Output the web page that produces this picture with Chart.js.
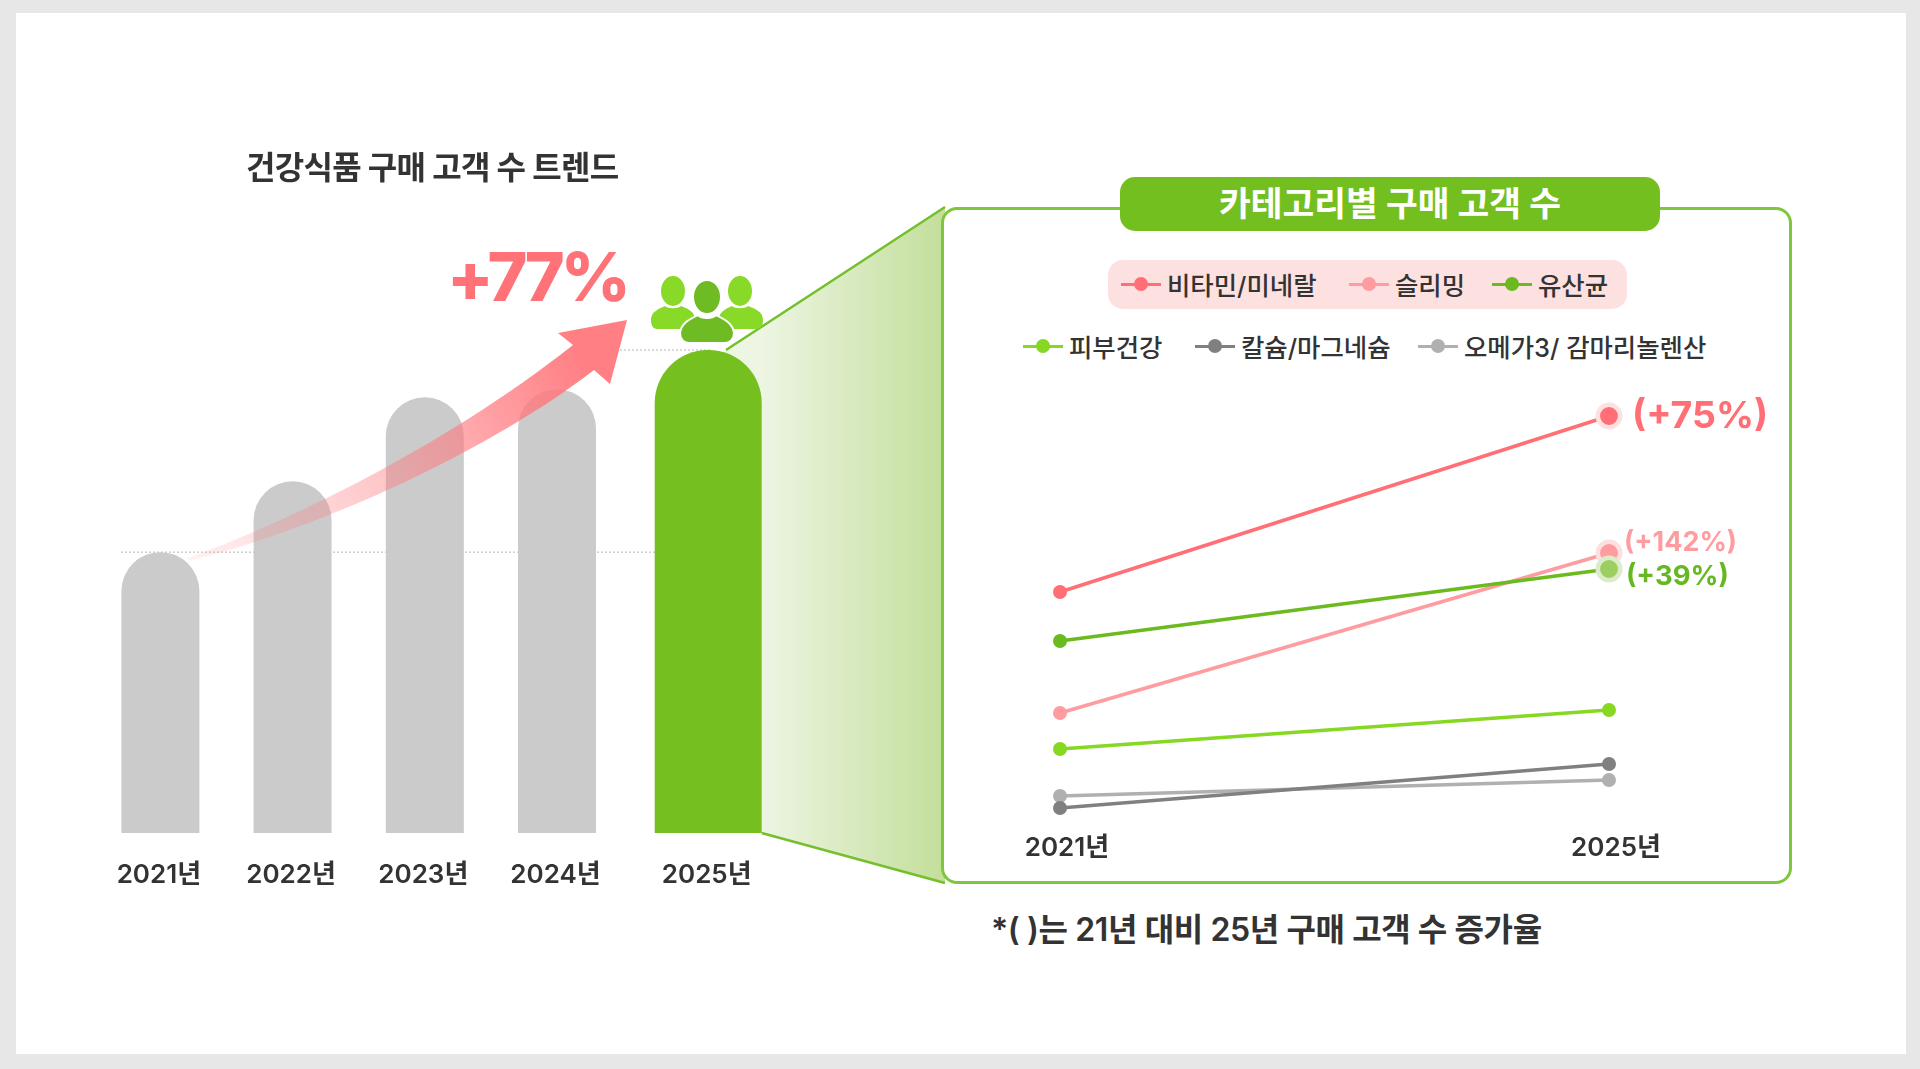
<!DOCTYPE html>
<html lang="ko">
<head>
<meta charset="utf-8">
<title>건강식품 구매 고객 수 트렌드</title>
<script src="https://cdn.jsdelivr.net/npm/chart.js@4"></script>
<style>
    html, body { margin: 0; padding: 0; }
    body { width: 1920px; height: 1069px; background: #e7e7e7; position: relative; overflow: hidden;
        font-family: Inter, "Noto Sans CJK KR", sans-serif; color: #333; }
    #sheet { position: absolute; left: 16px; top: 13px; width: 1890px; height: 1041px; background: #fff; }
    canvas { position: absolute; }
    .txt { position: absolute; white-space: nowrap; transform: translateY(-50%); line-height: 1; }
    #panel { position: absolute; box-sizing: border-box; left: 941px; top: 207px; width: 851px; height: 677px; background: #fff;
        border: 3px solid #7ec63c; border-radius: 16px; }
    #pill { position: absolute; left: 1120px; top: 177px; width: 540px; height: 54px; background: #74bf20; border-radius: 15px;
        color: #fff; font-size: 34.5px; font-weight: 700; line-height: 53px; text-align: center; }
    #legendBack { position: absolute; left: 1108px; top: 260px; width: 519px; height: 49px; background: #fde0e0; border-radius: 15px; }
    .legendItem { position: absolute; display: flex; align-items: center; height: 30px; transform: translateY(-50%);
        font-size: 25.4px; font-weight: 500; white-space: nowrap; }
    .legendMark { position: relative; width: 40px; height: 3px; margin-right: 6px; }
    .legendMark i { position: absolute; left: 13px; top: -5.5px; width: 14px; height: 14px; border-radius: 50%; background: inherit; }
    #people { position: absolute; left: 640px; top: 270px; }
</style>
</head>
<body>
<div id="sheet"></div>
<canvas id="trendChart" width="960" height="1069" style="left:0;top:0"></canvas>
<svg id="people" width="135" height="80" viewBox="640 270 135 80">
    <g fill="#88d928">
        <ellipse cx="673" cy="291" rx="12" ry="15"/>
        <ellipse cx="740" cy="291" rx="12" ry="15"/>
        <path d="M651 320C651 312 658 309 665 306C668 309 678 309 681 306C689 309 695 312 695 320C695 327 692 329 688 329L658 329C654 329 651 327 651 320Z"/>
        <path d="M719 320C719 312 725 309 732 306C735 309 745 309 748 306C756 309 763 312 763 320C763 327 760 329 756 329L726 329C722 329 719 327 719 320Z"/>
    </g>
    <g fill="#6fbb24" stroke="#fff" stroke-width="2">
        <ellipse cx="707" cy="297" rx="14" ry="17"/>
        <path d="M680 333C681 323 690 319 698 315C702 319 712 319 716 315C724 319 733 323 734 333C734 340 729 343 725 343L689 343C685 343 680 340 680 333Z"/>
    </g>
</svg>
<div class="txt" style="left:447px;top:276px;font-size:68px;font-weight:800;letter-spacing:-4px;color:#ff7278">+77%</div>
<div class="txt" style="left:246px;top:168px;font-size:32px;font-weight:700;letter-spacing:-0.7px">건강식품 구매 고객 수 트렌드</div>
<div id="panel"></div>
<div id="pill">카테고리별 구매 고객 수</div>
<div id="legendBack"></div>
<div id="legend"></div>
<canvas id="categoryChart" width="830" height="500" style="left:960px;top:380px"></canvas>
<div class="txt" style="left:991px;top:930px;font-size:32px;font-weight:600;letter-spacing:-0.4px">*( )는 21년 대비 25년 구매 고객 수 증가율</div>

<script>
const trendYears = ['2021년', '2022년', '2023년', '2024년', '2025년'];
const trendValues = [100, 127, 159, 162, 177];

const categoryYears = ['2021년', '2025년'];
const categoryNames = ['비타민/미네랄', '슬리밍', '유산균', '피부건강', '칼슘/마그네슘', '오메가3/ 감마리놀렌산'];
const vitaminValues = [234, 410];
const slimmingValues = [113, 273];
const probioticValues = [185, 257];
const skinValues = [77, 116];
const calciumValues = [18, 62];
const omegaValues = [30, 46];
const growthLabels = ['(+75%)', '(+142%)', '(+39%)'];

const categoryColors = ['#ff6f75', '#ff9ca0', '#6bba1f', '#86d822', '#808080', '#b0b0b0'];
const fontFamily = 'Inter, "Noto Sans CJK KR", sans-serif';

// category scale whose last slot sits a little further right
class GappedCategoryScale extends Chart.CategoryScale {
    static id = 'gappedCategory';
    getPixelForValue(value) {
        const pixel = super.getPixelForValue(value);
        const index = typeof value === 'number' ? value : this.parse(value);
        return index === this.max ? pixel + this.options.lastGap : pixel;
    }
}
Chart.register(GappedCategoryScale);

const trendDecor = {
    id: 'trendDecor',
    beforeDatasetsDraw(chart) {
        const ctx = chart.ctx;
        const y = chart.scales.y;
        const green = chart.getDatasetMeta(1).data[4];

        // funnel from the green bar into the category panel
        const fill = ctx.createLinearGradient(green.x + green.width / 2, 0, 941, 0);
        fill.addColorStop(0, '#edf5e3');
        fill.addColorStop(1, '#c4df9c');
        ctx.save();
        ctx.fillStyle = fill;
        ctx.beginPath();
        ctx.moveTo(726, y.getPixelForValue(177));
        ctx.lineTo(945, 207);
        ctx.lineTo(945, 883);
        ctx.lineTo(green.x + green.width / 2, chart.chartArea.bottom);
        ctx.closePath();
        ctx.fill();
        ctx.strokeStyle = '#74bf2c';
        ctx.lineWidth = 2.5;
        ctx.beginPath();
        ctx.moveTo(726, y.getPixelForValue(177));
        ctx.lineTo(945, 207);
        ctx.moveTo(green.x + green.width / 2, chart.chartArea.bottom);
        ctx.lineTo(945, 883);
        ctx.stroke();

        // dotted guides at the first and last year's level
        ctx.strokeStyle = '#b5b5b5';
        ctx.lineWidth = 1;
        ctx.setLineDash([2, 2]);
        ctx.beginPath();
        ctx.moveTo(121, y.getPixelForValue(trendValues[0]));
        ctx.lineTo(760, y.getPixelForValue(trendValues[0]));
        ctx.moveTo(620, y.getPixelForValue(trendValues[4]));
        ctx.lineTo(710, y.getPixelForValue(trendValues[4]));
        ctx.stroke();
        ctx.restore();
    },
    afterDatasetsDraw(chart) {
        const ctx = chart.ctx;
        const fill = ctx.createLinearGradient(190, 560, 600, 340);
        fill.addColorStop(0, 'rgba(255,120,125,0.1)');
        fill.addColorStop(0.45, 'rgba(255,120,125,0.42)');
        fill.addColorStop(0.95, 'rgba(255,120,125,0.95)');
        ctx.save();
        ctx.fillStyle = fill;
        ctx.beginPath();
        ctx.moveTo(188, 558);
        ctx.bezierCurveTo(280, 525, 440, 450, 573, 345);
        ctx.lineTo(558, 333);
        ctx.lineTo(627, 320);
        ctx.lineTo(610, 384);
        ctx.lineTo(594, 370);
        ctx.bezierCurveTo(480, 458, 300, 535, 188, 561);
        ctx.closePath();
        ctx.fill();
        ctx.restore();
    }
};

new Chart(document.getElementById('trendChart'), {
    type: 'bar',
    data: {
        labels: trendYears,
        datasets: [{
            data: trendValues.map((v, i) => (i < 4 ? v : null)),
            backgroundColor: '#cbcbcb',
            barThickness: 78,
            borderRadius: {topLeft: 39, topRight: 39, bottomLeft: 0, bottomRight: 0},
            base: -7,
            grouped: false,
            inflateAmount: 0
        }, {
            data: trendValues.map((v, i) => (i === 4 ? v : null)),
            backgroundColor: '#75c01f',
            barThickness: 107,
            borderRadius: {topLeft: 53, topRight: 53, bottomLeft: 0, bottomRight: 0},
            base: -7,
            grouped: false,
            clip: false,
            inflateAmount: 0
        }]
    },
    options: {
        responsive: false,
        animation: false,
        layout: {autoPadding: false, padding: {left: 94.3, right: 204.7, top: 350, bottom: 0}},
        plugins: {legend: {display: false}, tooltip: {enabled: false}},
        scales: {
            x: {
                type: 'gappedCategory',
                lastGap: 19,
                grid: {display: false},
                border: {display: false},
                afterFit(scale) { scale.height = 236; },
                ticks: {color: '#333', padding: 19, maxRotation: 0, labelOffset: -1.5,
                    font: {family: fontFamily, size: 26, weight: '600'}}
            },
            y: {display: false, min: -7, max: 177}
        }
    },
    plugins: [trendDecor]
});

function lineSeries(index, values, highlight, haloColor, endColor, order) {
    const color = categoryColors[index];
    return {
        label: categoryNames[index],
        data: values,
        borderColor: color,
        borderWidth: 3.5,
        tension: 0,
        clip: false,
        order: order,
        pointBackgroundColor: highlight ? [color, endColor] : color,
        pointRadius: highlight ? [7, 11.2] : 7,
        pointBorderWidth: highlight ? [0, 4.5] : 0,
        pointBorderColor: highlight ? haloColor : color
    };
}

// growth figures next to the highlighted end points
const growthText = {
    id: 'growthText',
    afterDatasetsDraw(chart) {
        const ctx = chart.ctx;
        const styles = [
            {dx: 23, dy: 1, size: 37.5, color: '#ff6f75'},
            {dx: 15, dy: -10, size: 27, color: '#ff9ca0'},
            {dx: 17, dy: 8, size: 27.5, color: '#66b821'}
        ];
        growthLabels.forEach((text, i) => {
            const end = chart.getDatasetMeta(i).data[1];
            ctx.save();
            ctx.font = '700 ' + styles[i].size + 'px ' + fontFamily;
            ctx.fillStyle = styles[i].color;
            ctx.textAlign = 'left';
            ctx.textBaseline = 'middle';
            ctx.fillText(text, end.x + styles[i].dx, end.y + styles[i].dy);
            ctx.restore();
        });
    }
};

new Chart(document.getElementById('categoryChart'), {
    type: 'line',
    data: {
        labels: categoryYears,
        datasets: [
            lineSeries(0, vitaminValues, true, '#fde0e0', categoryColors[0], 3),
            lineSeries(1, slimmingValues, true, '#fde0e0', categoryColors[1], 2),
            lineSeries(2, probioticValues, true, '#dceccb', '#9ccf62', 1),
            lineSeries(3, skinValues, false, null, null, 4),
            lineSeries(4, calciumValues, false, null, null, 5),
            lineSeries(5, omegaValues, false, null, null, 6)
        ]
    },
    options: {
        responsive: false,
        animation: false,
        layout: {autoPadding: false, padding: {left: 100, right: 181, top: 0, bottom: 0}},
        plugins: {legend: {display: false}, tooltip: {enabled: false}},
        scales: {
            x: {
                offset: false,
                grid: {display: false},
                border: {display: false},
                afterFit(scale) { scale.height = 54; },
                ticks: {color: '#333', padding: -1, maxRotation: 0, labelOffset: 7,
                    font: {family: fontFamily, size: 26, weight: '600'}}
            },
            y: {display: false, min: 0, max: 446}
        }
    },
    plugins: [growthText]
});

// legend rows, built from the same names and colours as the lines
const legendSlots = [[1121, 284], [1349, 284], [1492, 284], [1023, 346], [1195, 346], [1418, 346]];
const legendBox = document.getElementById('legend');
categoryNames.forEach((name, i) => {
    const item = document.createElement('div');
    item.className = 'legendItem';
    item.style.left = legendSlots[i][0] + 'px';
    item.style.top = legendSlots[i][1] + 'px';
    item.innerHTML = '<span class="legendMark" style="background:' + categoryColors[i] + '"><i></i></span>' + name;
    legendBox.appendChild(item);
});
</script>
</body>
</html>
